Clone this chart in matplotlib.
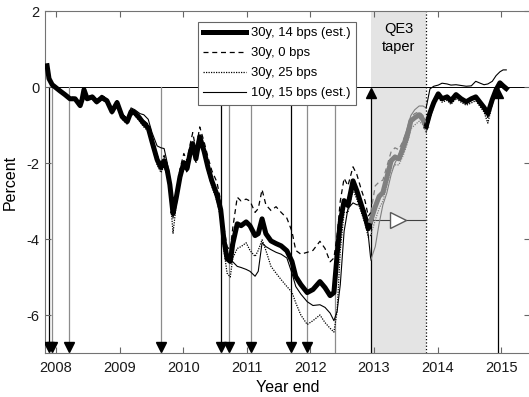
# -*- coding: utf-8 -*-
"""
Cumulative change by year end for the 30y / 10y scenarios,
with event dates and the QE3 taper window marked.
"""

import numpy as np
import matplotlib
matplotlib.use("agg")
import matplotlib.pyplot as plt

plt.rcParams['font.family'] = ['Liberation Sans', 'DejaVu Sans']
plt.rcParams['axes.unicode_minus'] = False

# %% data

years = [2007.86, 2007.89, 2007.94, 2008.00, 2008.06, 2008.14, 2008.22, 2008.30, 2008.38, 2008.41,
         2008.44, 2008.49, 2008.57, 2008.64, 2008.72, 2008.80, 2008.88, 2008.96, 2009.04, 2009.12,
         2009.18, 2009.24, 2009.32, 2009.38, 2009.45, 2009.51, 2009.59, 2009.65, 2009.70, 2009.75,
         2009.79, 2009.84, 2009.89, 2009.95, 2010.01, 2010.06, 2010.11, 2010.15, 2010.20, 2010.26,
         2010.33, 2010.39, 2010.45, 2010.53, 2010.59, 2010.64, 2010.69, 2010.74, 2010.78, 2010.85,
         2010.91, 2010.99, 2011.05, 2011.13, 2011.18, 2011.24, 2011.30, 2011.38, 2011.46, 2011.54,
         2011.63, 2011.71, 2011.77, 2011.85, 2011.95, 2012.04, 2012.15, 2012.23, 2012.31, 2012.37,
         2012.42, 2012.47, 2012.53, 2012.59, 2012.67, 2012.73, 2012.80, 2012.86, 2012.91, 2012.95,
         2013.02, 2013.08, 2013.14, 2013.20, 2013.27, 2013.33, 2013.39, 2013.46, 2013.52, 2013.58,
         2013.64, 2013.71, 2013.77, 2013.82, 2013.88, 2013.94, 2014.01, 2014.07, 2014.15, 2014.21,
         2014.29, 2014.37, 2014.45, 2014.53, 2014.60, 2014.67, 2014.73, 2014.79, 2014.86, 2014.92,
         2014.98, 2015.03, 2015.08]

y30_est = [0.56, 0.22, 0.06, -0.02, -0.10, -0.20, -0.31, -0.31, -0.49, -0.33,
           -0.07, -0.31, -0.26, -0.39, -0.28, -0.36, -0.65, -0.41, -0.78, -0.91,
           -0.65, -0.68, -0.83, -0.96, -1.07, -1.44, -1.91, -2.12, -1.94, -2.20,
           -2.57, -3.33, -2.92, -2.36, -1.99, -2.15, -1.73, -1.49, -1.89, -1.31,
           -1.70, -2.12, -2.47, -2.83, -3.23, -4.02, -4.52, -4.59, -4.12, -3.60,
           -3.65, -3.55, -3.65, -3.91, -3.86, -3.47, -3.86, -4.05, -4.12, -4.18,
           -4.31, -4.59, -4.99, -5.20, -5.41, -5.33, -5.12, -5.28, -5.49, -5.41,
           -4.41, -3.55, -2.99, -3.12, -2.47, -2.73, -3.10, -3.41, -3.73, -3.52,
           -3.15, -2.88, -2.78, -2.39, -1.94, -1.84, -1.89, -1.60, -1.31, -0.89,
           -0.81, -0.73, -0.86, -1.04, -0.68, -0.41, -0.18, -0.31, -0.26, -0.36,
           -0.20, -0.31, -0.39, -0.31, -0.26, -0.41, -0.54, -0.70, -0.33, -0.07,
           0.11, 0.03, -0.04]

y30_0bps = [0.58, 0.25, 0.08, 0.00, -0.06, -0.16, -0.26, -0.28, -0.42, -0.28,
            -0.02, -0.26, -0.22, -0.33, -0.22, -0.30, -0.58, -0.36, -0.70, -0.84,
            -0.58, -0.62, -0.76, -0.88, -0.98, -1.32, -1.80, -2.00, -1.80, -2.05,
            -2.45, -3.25, -2.80, -2.15, -1.75, -1.95, -1.50, -1.20, -1.65, -1.05,
            -1.45, -1.85, -2.20, -2.50, -3.00, -3.70, -4.20, -4.30, -3.70, -2.90,
            -3.00, -2.95, -3.00, -3.30, -3.20, -2.70, -3.10, -3.25, -3.15, -3.30,
            -3.45, -3.80, -4.30, -4.40, -4.35, -4.30, -4.06, -4.25, -4.60, -4.50,
            -3.90, -3.00, -2.40, -2.60, -2.10, -2.30, -2.70, -3.00, -3.40, -3.30,
            -2.60, -2.50, -2.45, -2.10, -1.70, -1.60, -1.65, -1.40, -1.15, -0.80,
            -0.70, -0.65, -0.75, -0.95, -0.62, -0.38, -0.15, -0.28, -0.22, -0.33,
            -0.17, -0.30, -0.37, -0.28, -0.24, -0.40, -0.56, -0.80, -0.35, -0.05,
            0.12, 0.02, -0.06]

y30_25bps = [0.55, 0.20, 0.04, -0.04, -0.13, -0.23, -0.35, -0.34, -0.53, -0.37,
             -0.11, -0.35, -0.30, -0.44, -0.33, -0.41, -0.71, -0.47, -0.85, -0.98,
             -0.72, -0.75, -0.91, -1.05, -1.17, -1.55, -2.05, -2.25, -2.08, -2.35,
             -2.75, -3.85, -3.10, -2.50, -2.10, -2.25, -1.85, -1.60, -2.00, -1.42,
             -1.80, -2.25, -2.62, -3.00, -3.45, -4.30, -4.90, -5.00, -4.50, -4.25,
             -4.20, -4.10, -4.30, -4.46, -4.30, -4.02, -4.30, -4.72, -4.90, -5.07,
             -5.25, -5.40, -5.68, -6.00, -6.25, -6.15, -6.00, -6.20, -6.35, -6.45,
             -5.90, -4.30, -3.30, -3.30, -2.70, -2.95, -3.30, -3.60, -3.95, -3.90,
             -3.50, -3.20, -3.00, -2.60, -2.15, -2.05, -2.05, -1.80, -1.50, -1.10,
             -1.00, -0.90, -1.00, -1.20, -0.82, -0.52, -0.28, -0.40, -0.35, -0.46,
             -0.30, -0.40, -0.48, -0.42, -0.36, -0.52, -0.66, -0.95, -0.45, -0.15,
             0.05, -0.04, -0.10]

y10_est = [0.55, 0.24, 0.08, 0.00, -0.08, -0.18, -0.28, -0.30, -0.45, -0.30,
           -0.05, -0.28, -0.22, -0.36, -0.24, -0.33, -0.60, -0.36, -0.72, -0.82,
           -0.55, -0.60, -0.70, -0.73, -0.85, -1.20, -1.55, -1.60, -1.62, -2.00,
           -2.40, -3.45, -2.90, -2.30, -1.95, -2.10, -1.70, -1.45, -1.85, -1.28,
           -1.68, -2.05, -2.40, -2.78, -3.20, -4.00, -4.45, -4.55, -4.60, -4.72,
           -4.75, -4.80, -4.85, -4.98, -4.85, -4.10, -4.20, -4.28, -4.35, -4.40,
           -4.50, -4.90, -5.25, -5.45, -5.65, -5.75, -5.73, -5.80, -5.95, -6.15,
           -5.90, -5.20, -3.80, -3.20, -3.05, -3.10, -3.10, -3.25, -3.90, -4.55,
           -4.20, -3.60, -3.10, -2.80, -2.30, -2.00, -1.80, -1.40, -1.10, -0.75,
           -0.60, -0.50, -0.50, -0.55, -0.05, 0.02, 0.05, 0.10, 0.08, 0.05,
           0.06, 0.04, 0.02, 0.03, 0.15, 0.10, 0.06, 0.08, 0.15, 0.30,
           0.40, 0.45, 0.45]

labels = ["30y, 14 bps (est.)", "30y, 0 bps", "30y, 25 bps", "10y, 15 bps (est.)"]

# event dates marked with a down arrow at the bottom; black = main events
events_down = [2007.89, 2007.94, 2008.20, 2009.65, 2010.59, 2010.72, 2011.07, 2011.69, 2011.95]
events_black = [True, False, False, False, True, False, False, True, False]
event_plain = 2012.39
events_up = [2012.95, 2014.95]

qe3_start = 2012.95
taper_end = 2013.82
qe3_level = -3.5

# %% figure

fig = plt.figure(figsize=(5.29, 3.97), dpi=100)
ax = fig.add_axes([45/529, 44/397, 485/529, 342/397])

ax.axvspan(qe3_start, taper_end, color='0.895', lw=0, zorder=0)
ax.axvline(taper_end, color='k', ls=':', lw=0.9, zorder=1)
ax.axhline(0, color='k', lw=0.7, zorder=1)

for x, blk in zip(events_down, events_black):
    ax.plot([x, x], [0, -6.83], color='k' if blk else '0.55', lw=0.9, zorder=1)
    ax.plot(x, -6.83, 'v', color='k', ms=6.5, zorder=3)
ax.plot([event_plain, event_plain], [0, -7], color='0.55', lw=0.9, zorder=1)
for x in events_up:
    ax.plot([x, x], [-7, -0.16], color='k', lw=0.9, zorder=1)
    ax.plot(x, -0.16, '^', color='k', ms=6.5, zorder=3)

# level at the start of QE3, carried through the taper window
ax.plot([qe3_start, taper_end], [qe3_level, qe3_level], color='0.25', lw=0.8, zorder=2)
ax.plot((qe3_start + taper_end) / 2, qe3_level, '>', mfc='w', mec='0.35', ms=11, zorder=3)

yrs = np.array(years)
pre = yrs <= qe3_start
mid = (yrs >= qe3_start) & (yrs <= taper_end)
post = yrs >= taper_end

styles = [dict(lw=3.6, ls='-'), dict(lw=0.9, ls=(0, (4, 3))),
          dict(lw=0.9, ls=(0, (1, 1))), dict(lw=0.8, ls='-')]
handles = []
for vals, st, lab in zip([y30_est, y30_0bps, y30_25bps, y10_est], styles, labels):
    v = np.array(vals)
    h, = ax.plot(yrs[pre], v[pre], color='k', label=lab, zorder=4, **st)
    ax.plot(yrs[mid], v[mid], color='0.5', zorder=4, **st)
    ax.plot(yrs[post], v[post], color='k', zorder=4, **st)
    handles.append(h)

ax.text((qe3_start + taper_end) / 2, 1.53, "QE3", ha='center', va='center', fontsize=10.5)
ax.text((qe3_start + taper_end) / 2, 1.06, "taper", ha='center', va='center', fontsize=10.5)

ax.set_xlim(2007.827, 2015.453)
ax.set_ylim(-7, 2)
ax.set_xticks(range(2008, 2016))
ax.set_yticks([-6, -4, -2, 0, 2])
ax.tick_params(direction='in', top=True, right=True, length=4, width=0.8,
               color='0.4', labelsize=10.5, labelcolor='0.1')
ax.tick_params(axis='x', pad=6)
ax.tick_params(axis='y', pad=4)
for sp in ax.spines.values():
    sp.set_color('0.45')
    sp.set_linewidth(0.8)

ax.set_xlabel("Year end", fontsize=11.5, labelpad=3)
ax.set_ylabel("Percent", fontsize=11.5, labelpad=6)

leg = fig.legend(handles=handles, loc='upper left', bbox_to_anchor=(198/529, 1 - 22/397),
                 fontsize=9.4, handlelength=3.3, handletextpad=0.35, labelspacing=0.6,
                 borderpad=0.4, borderaxespad=0, fancybox=False, framealpha=1,
                 edgecolor='0.4')
leg.get_frame().set_linewidth(0.8)

fig.savefig("out.png", dpi=100)
